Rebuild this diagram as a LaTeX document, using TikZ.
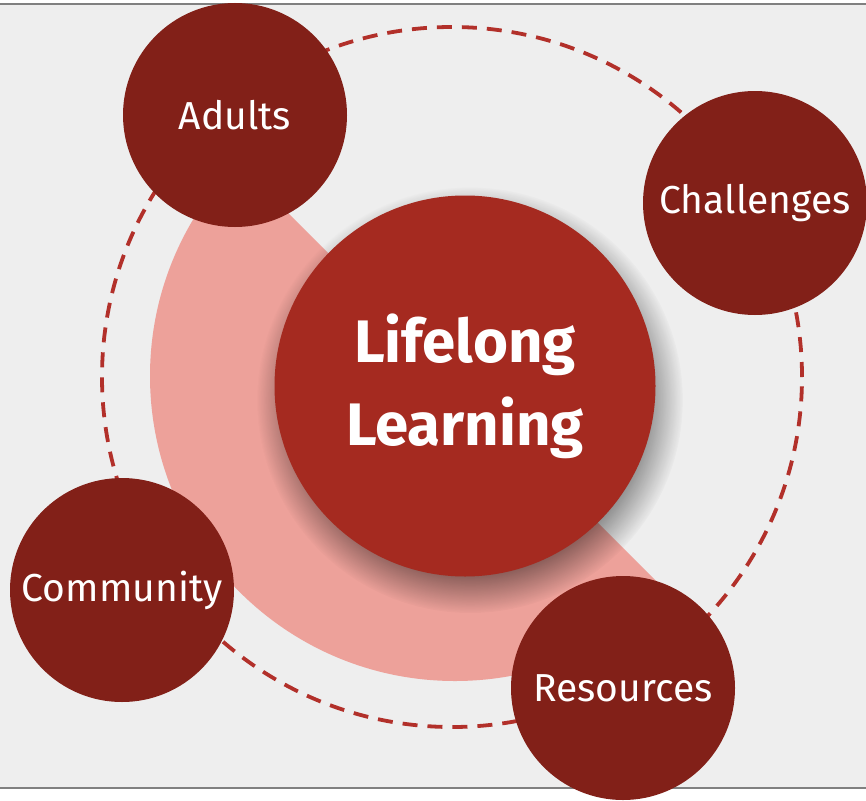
\documentclass[tikz,border=0pt]{standalone}
\usepackage{fontspec}
\setmainfont{Fira Sans}
\usetikzlibrary{fadings}
\definecolor{bggray}{HTML}{EEEEEE}
\definecolor{topicred}{HTML}{822018}
\definecolor{hubred}{HTML}{A52A20}
\definecolor{ringpink}{HTML}{EDA19A}
\definecolor{loopred}{HTML}{B2302A}
\begin{document}
\begin{tikzpicture}[x=1pt,y=-1pt,
        topic/.style={circle,fill=topicred,text=white,minimum size=224pt,inner sep=0pt,
            font=\fontsize{39}{45}\selectfont},
        hub/.style={circle,fill=hubred,text=white,minimum size=381pt,inner sep=0pt,align=center,
            font=\bfseries\fontsize{60}{83}\selectfont},
        hubshadow/.style={black,opacity=0.45,path fading=circle with fuzzy edge 20 percent}]
    \useasboundingbox (0,0) rectangle (866,800);
    \fill[bggray] (0,4) rectangle (866,788);
    \draw[gray,line width=2pt] (0,4) -- (866,4) (0,788) -- (866,788);
    \begin{scope}
        \clip (-100,-175) -- (1000,925) -- (-100,925) -- cycle;
        \fill[ringpink] (455,376) circle[radius=305pt];
    \end{scope}
    \draw[loopred,line width=3.8pt,dash pattern=on 15pt off 10pt] (452,377) circle[radius=350pt];
    \fill[hubshadow] (470,400) circle[radius=213pt];
    \node[hub] (lifelong) at (465,386) {Lifelong\\Learning};
    \node[topic] (adults) at (235,115) {Adults};
    \node[topic] (challenges) at (755,203) {Challenges};
    \node[topic] (community) at (122,590) {Community};
    \node[topic] (resources) at (623,688) {Resources};
\end{tikzpicture}
\end{document}
